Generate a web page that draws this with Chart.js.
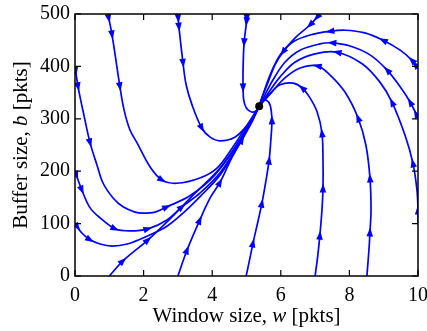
<!DOCTYPE html>
<html><head><meta charset="utf-8">
<script src="https://cdn.jsdelivr.net/npm/chart.js@4/dist/chart.umd.min.js"></script>
<style>html,body{margin:0;padding:0;background:#fff}#wrap{width:427px;height:331px}</style>
</head><body><div id="wrap"><canvas id="c" width="427" height="331"></canvas></div>
<script>
// ---- data (window size w [pkts], buffer size b [pkts]) ----
const xTicks = [0, 2, 4, 6, 8, 10];
const yTicks = [0, 100, 200, 300, 400, 500];
const equilibrium = [[5.37, 324]];

const trajLeft400 = [[0,400],[0.09,361],[0.26,307],[0.44,254],[0.64,212],[0.82,177],[1.11,149],[1.40,132],[1.75,122],[1.98,120],[2.33,122],[2.68,132],[3.35,153],[4.08,193],[4.81,260],[5.37,324]];
const arrowsLeft400 = [0,1,3,11];
const trajTop1 = [[0.96,500],[1.08,460],[1.31,361],[1.43,317],[1.60,279],[1.81,254],[2.19,208],[2.54,183],[2.97,177],[3.64,187],[4.14,206],[4.58,244],[4.96,282],[5.37,324]];
const arrowsTop1 = [0,1,2,7];
const trajTop3 = [[3.0,500],[3.03,475],[3.15,406],[3.24,365],[3.41,327],[3.70,282],[3.94,265],[4.23,258],[4.66,265],[5.0,286],[5.22,305],[5.37,324]];
const arrowsTop3 = [0,1,2,5];
const trajTop5 = [[5.01,500],[5.0,485],[4.93,445],[4.90,395],[4.90,359],[4.92,335],[5.0,320],[5.15,313],[5.28,315],[5.37,324]];
const arrowsTop5 = [0,1,2,4];
const trajTop7 = [[7.14,500],[6.85,479],[6.41,454],[6.06,427],[5.83,403],[5.63,370],[5.45,340],[5.37,324]];
const arrowsTop7 = [0,1,3];
const trajRight400 = [[10,397],[9.82,412],[9.48,431],[8.98,450],[8.45,464],[7.87,469],[7.43,467],[6.85,460],[6.36,447],[5.98,422],[5.69,384],[5.48,346],[5.37,324]];
const arrowsRight400 = [0,1,3,6];
const trajRight300 = [[10,302],[9.77,332],[9.48,361],[9.10,393],[8.60,422],[8.02,439],[7.49,445],[7.14,443],[6.56,431],[6.12,408],[5.77,374],[5.51,342],[5.37,324]];
const arrowsRight300 = [0,1,3,6];
const trajRight100 = [[10,101],[10,126],[9.97,164],[9.85,216],[9.62,269],[9.24,332],[8.89,370],[8.37,405],[7.64,427],[7.0,424],[6.41,408],[5.98,380],[5.63,349],[5.37,324]];
const arrowsRight100 = [1,3,5,8];
const trajBottom85 = [[8.51,0],[8.57,50],[8.60,84],[8.63,126],[8.60,187],[8.48,250],[8.25,302],[7.87,351],[7.43,384],[7.06,401],[6.56,397],[6.12,378],[5.74,351],[5.48,332],[5.37,324]];
const arrowsBottom85 = [2,4,6,9];
const trajBottom7 = [[7.0,0],[7.08,40],[7.14,78],[7.20,126],[7.23,168],[7.23,221],[7.20,273],[7.06,313],[6.85,340],[6.62,359],[6.36,368],[5.98,365],[5.69,349],[5.48,334],[5.37,324]];
const arrowsBottom7 = [2,4,6,9];
const trajBottom5 = [[4.99,0],[5.10,34],[5.19,63],[5.33,103],[5.45,139],[5.57,183],[5.66,221],[5.71,260],[5.74,298],[5.69,326],[5.57,336],[5.45,334],[5.37,324]];
const arrowsBottom5 = [2,4,6,8];
const trajLeft200 = [[0,200],[0.20,164],[0.44,130],[0.73,111],[1.17,90],[1.60,86],[2.13,90],[2.68,107],[3.12,132],[3.64,158],[4.23,197],[4.81,256],[5.37,324]];
const arrowsLeft200 = [0,1,4,6,8];
const trajLeft100 = [[0,100],[0.20,82],[0.44,69],[0.73,61],[1.08,57],[1.52,61],[2.10,76],[2.68,95],[3.15,120],[3.64,151],[4.23,193],[4.81,254],[5.37,324]];
const arrowsLeft100 = [0,2];
const trajBottom1 = [[1,0],[1.40,29],[2.13,69],[2.77,109],[3.50,158],[4.23,206],[4.81,260],[5.37,324]];
const arrowsBottom1 = [1,2];
const trajBottom3 = [[3.0,0],[3.27,50],[3.64,107],[3.94,149],[4.23,179],[4.58,227],[4.87,260],[5.16,294],[5.37,324]];
const arrowsBottom3 = [1,2,4,6];

const trajectories = [
  [trajLeft400, arrowsLeft400], [trajTop1, arrowsTop1], [trajTop3, arrowsTop3], [trajTop5, arrowsTop5],
  [trajTop7, arrowsTop7], [trajRight400, arrowsRight400], [trajRight300, arrowsRight300], [trajRight100, arrowsRight100],
  [trajBottom85, arrowsBottom85], [trajBottom7, arrowsBottom7], [trajBottom5, arrowsBottom5], [trajLeft200, arrowsLeft200],
  [trajLeft100, arrowsLeft100], [trajBottom1, arrowsBottom1], [trajBottom3, arrowsBottom3]
];

const BLUE = '#0000ff';
const FONT = "'Liberation Serif','Times New Roman',serif";

const datasets = [{
  data: equilibrium.map(p => ({x: p[0], y: p[1]})),
  showLine: false, pointRadius: 4, pointBackgroundColor: '#000', pointBorderColor: '#000', borderWidth: 0, order: 0
}];
trajectories.forEach(([t, a]) => datasets.push({
  data: t.map(p => ({x: p[0], y: p[1]})),
  arrowIdx: a, borderColor: BLUE, borderWidth: 1.7, pointRadius: 0, tension: 0.35, fill: false, order: 1
}));

const arrowPlugin = {
  id: 'arrows',
  afterDatasetsDraw(chart) {
    const {ctx, scales: {x, y}, chartArea: ca} = chart;
    ctx.save();
    ctx.beginPath(); ctx.rect(ca.left, ca.top, ca.right - ca.left, ca.bottom - ca.top); ctx.clip();
    ctx.fillStyle = BLUE;
    chart.data.datasets.forEach(ds => {
      if (!ds.arrowIdx) return;
      const px = ds.data.map(p => [x.getPixelForValue(p.x), y.getPixelForValue(p.y)]);
      ds.arrowIdx.forEach(i => {
        const a = px[Math.max(0, i - 1)], b = px[Math.min(px.length - 1, i + 1)];
        let dx = b[0] - a[0], dy = b[1] - a[1];
        const L = Math.hypot(dx, dy); const ux = dx / L, uy = dy / L;
        const len = 9, half = 3.3;
        let cx = px[i][0], cy = px[i][1];
        if (i === 0) { cx += ux * len * 0.5; cy += uy * len * 0.5; }
        const tx = cx + ux * len * 0.5, ty = cy + uy * len * 0.5;
        const bx = cx - ux * len * 0.5, by = cy - uy * len * 0.5;
        ctx.beginPath();
        ctx.moveTo(tx, ty);
        ctx.lineTo(bx - uy * half, by + ux * half);
        ctx.lineTo(bx + uy * half, by - ux * half);
        ctx.closePath(); ctx.fill();
      });
    });
    ctx.restore();
  }
};

const framePlugin = {
  id: 'frame',
  afterDraw(chart) {
    const {ctx, scales: {x, y}, chartArea: ca} = chart;
    ctx.save();
    ctx.strokeStyle = '#000'; ctx.lineWidth = 1.5;
    ctx.strokeRect(ca.left, ca.top, ca.right - ca.left, ca.bottom - ca.top);
    ctx.lineWidth = 1.2;
    const tl = 6;
    ctx.beginPath();
    xTicks.forEach(v => { const p = x.getPixelForValue(v);
      ctx.moveTo(p, ca.bottom); ctx.lineTo(p, ca.bottom - tl);
      ctx.moveTo(p, ca.top); ctx.lineTo(p, ca.top + tl); });
    yTicks.forEach(v => { const p = y.getPixelForValue(v);
      ctx.moveTo(ca.left, p); ctx.lineTo(ca.left + tl, p);
      ctx.moveTo(ca.right, p); ctx.lineTo(ca.right - tl, p); });
    ctx.stroke();
    ctx.fillStyle = '#000';
    ctx.textBaseline = 'alphabetic';
    const drawParts = (parts, cx, cyBase) => {
      let total = 0;
      parts.forEach(p => { ctx.font = p[1] + ' 21px ' + FONT; total += ctx.measureText(p[0]).width; });
      let xx = cx - total / 2;
      parts.forEach(p => { ctx.font = p[1] + ' 21px ' + FONT; ctx.textAlign = 'left'; ctx.fillText(p[0], xx, cyBase); xx += ctx.measureText(p[0]).width; });
    };
    drawParts([['Window size, ', 'normal'], ['w', 'italic'], [' [pkts]', 'normal']], (ca.left + ca.right) / 2, 322);
    ctx.save();
    ctx.translate(27, (ca.top + ca.bottom) / 2);
    ctx.rotate(-Math.PI / 2);
    drawParts([['Buffer size, ', 'normal'], ['b', 'italic'], [' [pkts]', 'normal']], 0, 0);
    ctx.restore();
    ctx.restore();
  }
};

new Chart(document.getElementById('c'), {
  type: 'line',
  data: {datasets},
  options: {
    responsive: false, animation: false, devicePixelRatio: 1,
    layout: {padding: {top: 14, right: 0, left: 0, bottom: 0}},
    plugins: {legend: {display: false}, tooltip: {enabled: false}},
    scales: {
      x: {type: 'linear', min: 0, max: 10,
        afterBuildTicks: s => { s.ticks = xTicks.map(v => ({value: v})); },
        afterFit: s => { s.height = 55; s.paddingRight = 9; s.paddingLeft = 0; },
        grid: {display: false, drawTicks: false}, border: {display: false},
        ticks: {padding: 8, color: '#000', font: {family: FONT, size: 20}, maxRotation: 0}},
      y: {type: 'linear', min: 0, max: 500,
        afterBuildTicks: s => { s.ticks = yTicks.map(v => ({value: v})); },
        afterFit: s => { s.width = 75; s.paddingTop = 0; s.paddingBottom = 0; },
        grid: {display: false, drawTicks: false}, border: {display: false},
        ticks: {padding: 5, color: '#000', font: {family: FONT, size: 20}}}
    }
  },
  plugins: [arrowPlugin, framePlugin]
});
</script></body></html>
